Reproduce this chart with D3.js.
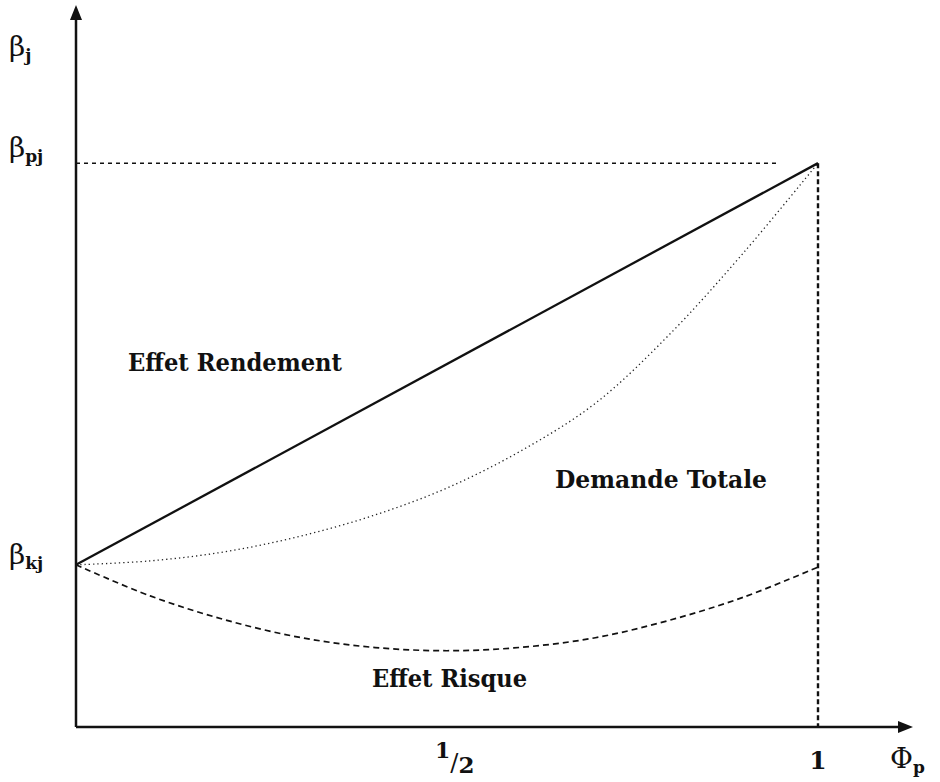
<!DOCTYPE html>
<html>
<head>
<meta charset="utf-8">
<script src="https://cdnjs.cloudflare.com/ajax/libs/d3/7.8.5/d3.min.js"></script>
<style>
  body { margin: 0; background: #fff; }
  text { font-family: "DejaVu Serif", serif; font-weight: bold; fill: #111; }
</style>
</head>
<body>
<div class="chart"></div>
<script>
// values (x = Phi_p, y = beta)
var betaKJ = 0.287,
    betaPJ = 0.998;

var rendement = [[0, 0.287], [1, 0.998]];

var totale = [[0, 0.287], [0.1, 0.294], [0.2, 0.31], [0.3, 0.337], [0.4, 0.374],
  [0.5, 0.423], [0.6, 0.489], [0.7, 0.573], [0.8, 0.695], [0.9, 0.84], [1, 0.998]];

var risque = [[0, 0.287], [0.1, 0.232], [0.2, 0.19], [0.3, 0.159], [0.4, 0.141],
  [0.5, 0.135], [0.6, 0.141], [0.7, 0.158], [0.8, 0.189], [0.9, 0.23], [1, 0.283]];

var xTicks = [0.5, 1];

var width = 940, height = 782;

var x = d3.scaleLinear().domain([0, 1]).range([76, 818]);
var y = d3.scaleLinear().domain([0, 1]).range([727, 162]);

var svg = d3.select(".chart").append("svg")
  .attr("width", width)
  .attr("height", height);

var line = d3.line()
  .x(function(d) { return x(d[0]); })
  .y(function(d) { return y(d[1]); })
  .curve(d3.curveCatmullRom);

// guide lines
svg.append("line")
  .attr("x1", x(0)).attr("x2", x(0.948))
  .attr("y1", y(betaPJ)).attr("y2", y(betaPJ))
  .style("stroke", "#111").style("stroke-width", 1.5)
  .style("stroke-dasharray", "4,4");

svg.append("line")
  .attr("x1", x(1)).attr("x2", x(1))
  .attr("y1", y(betaPJ)).attr("y2", y(0))
  .style("stroke", "#111").style("stroke-width", 2.4)
  .style("stroke-dasharray", "5,3");

// curves
svg.append("path").datum(totale)
  .attr("d", line)
  .style("fill", "none").style("stroke", "#222").style("stroke-width", 1.3)
  .style("stroke-dasharray", "1.3,3");

svg.append("path").datum(risque)
  .attr("d", line)
  .style("fill", "none").style("stroke", "#111").style("stroke-width", 1.7)
  .style("stroke-dasharray", "6,4");

svg.append("path").datum(rendement)
  .attr("d", d3.line().x(function(d) { return x(d[0]); }).y(function(d) { return y(d[1]); }))
  .style("fill", "none").style("stroke", "#111").style("stroke-width", 2.3);

// axes with arrows
svg.append("line")
  .attr("x1", x(0)).attr("x2", x(0))
  .attr("y1", y(0)).attr("y2", 12)
  .style("stroke", "#111").style("stroke-width", 2.5);
svg.append("path")
  .attr("d", "M" + x(0) + ",5 L" + (x(0) + 6) + ",20 L" + (x(0) - 6) + ",20 Z")
  .style("fill", "#111");

svg.append("line")
  .attr("x1", x(0)).attr("x2", 905)
  .attr("y1", y(0)).attr("y2", y(0))
  .style("stroke", "#111").style("stroke-width", 2.5);
svg.append("path")
  .attr("d", "M913," + y(0) + " L898," + (y(0) - 6) + " L898," + (y(0) + 6) + " Z")
  .style("fill", "#111");

// tick labels: 1/2 as one text with raised 1 and lowered 2
var half = svg.append("text")
  .attr("x", x(xTicks[0]) - 12).attr("y", 758)
  .style("font-size", "22px");
half.append("tspan").text("1");
half.append("tspan").attr("dy", 13)
  .style("font-size", "24px").style("font-weight", "normal").text("/");
half.append("tspan").attr("dy", 2)
  .style("font-size", "23px").text("2");

svg.append("text")
  .attr("x", x(xTicks[1])).attr("y", 769)
  .attr("text-anchor", "middle")
  .style("font-size", "25px")
  .text("1");

// axis titles
function greek(sym, sub, px, py) {
  var t = svg.append("text").attr("x", px).attr("y", py).style("font-size", "28px")
    .style("font-weight", "normal");
  t.append("tspan").text(sym);
  t.append("tspan").attr("dy", 5).style("font-size", "17px").style("font-weight", "bold").text(sub);
}
greek("\u03A6", "p", 890, 768);
greek("\u03B2", "j", 9, 56);
greek("\u03B2", "pj", 9, 157);
greek("\u03B2", "kj", 9, 564);

// region labels
var labels = [
  { text: "Effet Rendement", x: 128, y: 371, w: 214 },
  { text: "Demande Totale", x: 555, y: 488, w: 212 },
  { text: "Effet Risque", x: 372, y: 687, w: 155 }
];
svg.selectAll(".lbl")
  .data(labels)
  .enter().append("text")
  .attr("class", "lbl")
  .attr("x", function(d) { return d.x; })
  .attr("y", function(d) { return d.y; })
  .attr("textLength", function(d) { return d.w; })
  .attr("lengthAdjust", "spacingAndGlyphs")
  .style("font-size", "24px")
  .text(function(d) { return d.text; });
</script>
</body>
</html>
